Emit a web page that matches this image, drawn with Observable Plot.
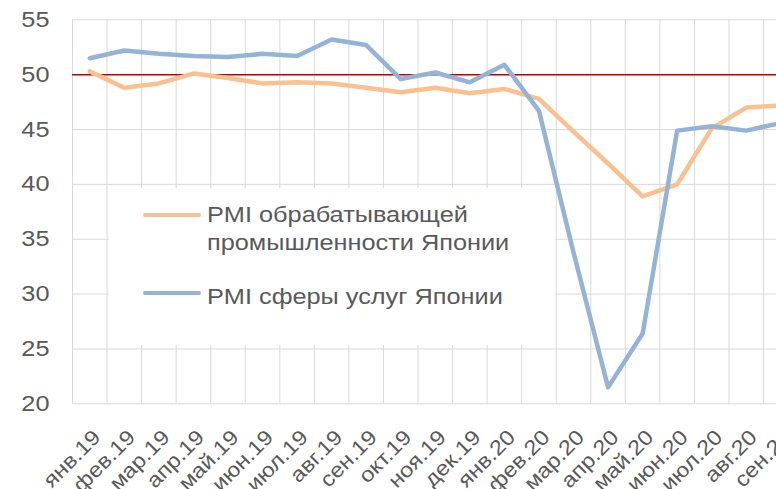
<!DOCTYPE html>
<html>
<head>
<meta charset="utf-8">
<script src="https://cdn.jsdelivr.net/npm/d3@7"></script>
<script src="https://cdn.jsdelivr.net/npm/@observablehq/plot@0.6"></script>
<style>
  html, body { margin: 0; padding: 0; background: #fff; overflow: hidden; }
  #wrap { position: relative; width: 776px; height: 489px; overflow: hidden; font-family: "Liberation Sans", Arial, sans-serif; }
  #legend { position: absolute; left: 109px; top: 188px; width: 446px; height: 157px; background: #fff; }
  .sw { position: absolute; left: 34px; width: 58px; height: 4px; border-radius: 2px; }
  .lt { position: absolute; left: 98px; width: 275px; font-size: 22px; line-height: 28px; color: #595959; transform: scaleX(1.15); transform-origin: 0 0; white-space: normal; }
</style>
</head>
<body>
<div id="wrap"></div>
<script>
const months = ["янв.19","фев.19","мар.19","апр.19","май.19","июн.19","июл.19","авг.19","сен.19","окт.19","ноя.19","дек.19","янв.20","фев.20","мар.20","апр.20","май.20","июн.20","июл.20","авг.20","сен.20"];
const manufacturing = [50.3,48.8,49.2,50.1,49.7,49.2,49.3,49.2,48.8,48.4,48.8,48.3,48.7,47.8,44.8,41.9,38.9,40.0,45.1,47.0,47.2];
const services = [51.5,52.2,51.9,51.7,51.6,51.9,51.7,53.2,52.7,49.6,50.2,49.3,50.9,46.7,33.8,21.5,26.4,44.9,45.3,44.9,45.6];
const seriesNames = ["PMI обрабатывающей промышленности Японии", "PMI сферы услуг Японии"];
const seriesColors = ["#fac090", "#95b3d7"];
const yTicks = [20,25,30,35,40,45,50,55];
const threshold = 50;

const font = "'Liberation Sans', Arial, sans-serif";
const mfgData = manufacturing.map((v, i) => ({i, v}));
const srvData = services.map((v, i) => ({i, v}));
const bounds = d3.range(months.length + 1).map(k => k - 0.5);

const chart = Plot.plot({
  width: 776,
  height: 489,
  marginLeft: 72,
  marginTop: 19.3,
  marginBottom: 85.7,
  marginRight: 0,
  style: {fontFamily: font, fontSize: "22px", color: "#595959", background: "#fff", overflow: "visible"},
  x: {type: "linear", domain: [-0.5, months.length - 0.5], range: [72, 797.6], axis: null},
  y: {domain: [20, 55], range: [403.3, 19.3]},
  marks: [
    Plot.ruleY(yTicks, {x1: -0.5, x2: months.length - 0.5, stroke: "#d9d9d9", strokeWidth: 1}),
    Plot.ruleX(bounds, {y1: 20, y2: 55, stroke: "#d9d9d9", strokeWidth: 1}),
    Plot.ruleY([threshold], {x1: -0.5, x2: months.length - 0.5, stroke: "#c00000", strokeWidth: 1.5}),
    Plot.axisY(yTicks, {tickSize: 0, tickPadding: 23, fontSize: 22, fill: "#595959", label: null}),
    Plot.line(mfgData, {x: "i", y: "v", stroke: seriesColors[0], strokeWidth: 4.5, strokeLinejoin: "round", strokeLinecap: "round"}),
    Plot.line(srvData, {x: "i", y: "v", stroke: seriesColors[1], strokeWidth: 4.5, strokeLinejoin: "round", strokeLinecap: "round"}),
    Plot.text(months, {x: (d, i) => i, frameAnchor: "bottom", dy: 24.2, dx: 1.5, rotate: -45, textAnchor: "end", lineAnchor: "top", fontSize: 21, fill: "#595959", text: d => d})
  ]
});

// the reference image is stretched horizontally: widen every text the same way
const S = 1.15;
chart.querySelectorAll("text").forEach(t => {
  let tr = t.getAttribute("transform") || "";
  const x = t.getAttribute("x");
  if (x && !/em/.test(x)) { tr += ` translate(${x},0)`; t.removeAttribute("x"); }
  if (/rotate\(/.test(tr)) tr += ` scale(1.12,1)`;
  else tr += ` scale(${S},1)`;
  t.setAttribute("transform", tr.trim());
});

const wrap = document.getElementById("wrap");
wrap.appendChild(chart);

const legend = document.createElement("div");
legend.id = "legend";
const sampleTops = [25, 102.7];
const textTops = [12.9, 95.4];
seriesNames.forEach((name, k) => {
  const sw = document.createElement("div");
  sw.className = "sw";
  sw.style.top = sampleTops[k] + "px";
  sw.style.background = seriesColors[k];
  legend.appendChild(sw);
  const lt = document.createElement("div");
  lt.className = "lt";
  lt.style.top = textTops[k] + "px";
  lt.textContent = name;
  legend.appendChild(lt);
});
wrap.appendChild(legend);
</script>
</body>
</html>
